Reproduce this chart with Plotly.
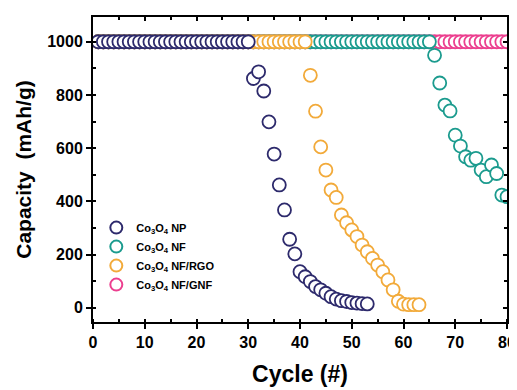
import plotly.graph_objects as go

# ---- data ----
cycles_np = list(range(1, 54))
cap_np = [1000, 1000, 1000, 1000, 1000, 1000, 1000, 1000, 1000, 1000,
          1000, 1000, 1000, 1000, 1000, 1000, 1000, 1000, 1000, 1000,
          1000, 1000, 1000, 1000, 1000, 1000, 1000, 1000, 1000, 1000,
          862, 887, 815, 699, 578, 462, 368, 258, 203, 136,
          117, 99, 80, 68, 55, 42, 33, 27, 24, 20,
          18, 16, 15]

cycles_nf = list(range(1, 81))
cap_nf = [1000, 1000, 1000, 1000, 1000, 1000, 1000, 1000, 1000, 1000,
          1000, 1000, 1000, 1000, 1000, 1000, 1000, 1000, 1000, 1000,
          1000, 1000, 1000, 1000, 1000, 1000, 1000, 1000, 1000, 1000,
          1000, 1000, 1000, 1000, 1000, 1000, 1000, 1000, 1000, 1000,
          1000, 1000, 1000, 1000, 1000, 1000, 1000, 1000, 1000, 1000,
          1000, 1000, 1000, 1000, 1000, 1000, 1000, 1000, 1000, 1000,
          1000, 1000, 1000, 1000, 1000, 949, 845, 762, 740, 649,
          608, 568, 555, 562, 518, 493, 537, 505, 424, 418]

cycles_rgo = list(range(1, 64))
cap_rgo = [1000, 1000, 1000, 1000, 1000, 1000, 1000, 1000, 1000, 1000,
           1000, 1000, 1000, 1000, 1000, 1000, 1000, 1000, 1000, 1000,
           1000, 1000, 1000, 1000, 1000, 1000, 1000, 1000, 1000, 1000,
           1000, 1000, 1000, 1000, 1000, 1000, 1000, 1000, 1000, 1000,
           1000, 874, 739, 605, 518, 443, 415, 349, 320, 293,
           268, 236, 211, 186, 161, 136, 105, 68, 25, 14,
           12, 12, 12]

cycles_gnf = list(range(1, 81))
cap_gnf = [1000, 1000, 1000, 1000, 1000, 1000, 1000, 1000, 1000, 1000,
           1000, 1000, 1000, 1000, 1000, 1000, 1000, 1000, 1000, 1000,
           1000, 1000, 1000, 1000, 1000, 1000, 1000, 1000, 1000, 1000,
           1000, 1000, 1000, 1000, 1000, 1000, 1000, 1000, 1000, 1000,
           1000, 1000, 1000, 1000, 1000, 1000, 1000, 1000, 1000, 1000,
           1000, 1000, 1000, 1000, 1000, 1000, 1000, 1000, 1000, 1000,
           1000, 1000, 1000, 1000, 1000, 1000, 1000, 1000, 1000, 1000,
           1000, 1000, 1000, 1000, 1000, 1000, 1000, 1000, 1000, 1000]

names = ["Co<sub>3</sub>O<sub>4</sub> NP", "Co<sub>3</sub>O<sub>4</sub> NF",
         "Co<sub>3</sub>O<sub>4</sub> NF/RGO", "Co<sub>3</sub>O<sub>4</sub> NF/GNF"]
colors = ["#2d2a6c", "#1b9b8e", "#f2aa3a", "#ec3f8f"]

x_ticks = [0, 10, 20, 30, 40, 50, 60, 70, 80]
y_ticks = [0, 200, 400, 600, 800, 1000]

FONT = "Arial, Liberation Sans, sans-serif"

fig = go.Figure()
series = [(cycles_gnf, cap_gnf, 3), (cycles_nf, cap_nf, 1),
          (cycles_rgo, cap_rgo, 2), (cycles_np, cap_np, 0)]
for xs, ys, idx in series:
    fig.add_trace(go.Scatter(
        x=xs, y=ys, mode="markers", name=names[idx], legendrank=idx + 1,
        marker=dict(symbol="circle", size=13, color="white",
                    line=dict(color=colors[idx], width=1.8)),
    ))

# empty trace to carry the top/right mirror axes
fig.add_trace(go.Scatter(x=[], y=[], xaxis="x2", yaxis="y2", showlegend=False))

xr = [0, 80]
yr = [-53, 1093]
common = dict(showline=True, linecolor="black", linewidth=2, showgrid=False,
              zeroline=False, automargin=False)

# page body has an 8px default margin, so the figure is sized to compensate
fig.update_layout(
    width=509, height=382,
    margin=dict(l=85, r=10, t=9, b=68),
    paper_bgcolor="white", plot_bgcolor="white",
    font=dict(family=FONT, color="black"),
    xaxis=dict(range=xr, tickvals=x_ticks, ticks="outside", ticklen=5,
               tickwidth=1.5, tickcolor="black",
               minor=dict(dtick=5, ticks="inside", ticklen=3, tickwidth=1.5,
                          tickcolor="black"),
               tickfont=dict(size=16, family=FONT, weight="bold"),
               title=dict(text="Cycle (#)", standoff=16,
                          font=dict(size=23, family=FONT, weight="bold")),
               **common),
    yaxis=dict(range=yr, tickvals=y_ticks, ticks="outside", ticklen=5,
               tickwidth=1.5, tickcolor="black",
               minor=dict(dtick=100, tick0=0, ticks="inside", ticklen=3,
                          tickwidth=1.5, tickcolor="black"),
               tickfont=dict(size=16, family=FONT, weight="bold"),
               title=dict(text="Capacity  (mAh/g)", standoff=10,
                          font=dict(size=21, family=FONT, weight="bold")),
               **common),
    xaxis2=dict(range=xr, overlaying="x", side="top", anchor="y2",
                tickvals=x_ticks, ticks="inside", ticklen=4, tickwidth=1.5,
                tickcolor="black", showticklabels=False,
                minor=dict(dtick=5, ticks="inside", ticklen=3, tickwidth=1.5,
                           tickcolor="black"),
                **common),
    yaxis2=dict(range=yr, overlaying="y", side="right", anchor="x2",
                tickvals=y_ticks, ticks="inside", ticklen=4, tickwidth=1.5,
                tickcolor="black", showticklabels=False,
                minor=dict(dtick=100, tick0=0, ticks="inside", ticklen=3,
                           tickwidth=1.5, tickcolor="black"),
                **common),
    legend=dict(x=0.008, y=0.357, xanchor="left", yanchor="top",
                bgcolor="rgba(0,0,0,0)", tracegroupgap=0,
                font=dict(size=11, family=FONT, weight="bold"),
                itemsizing="constant"),
    showlegend=True,
)

fig.write_html("out.html")
